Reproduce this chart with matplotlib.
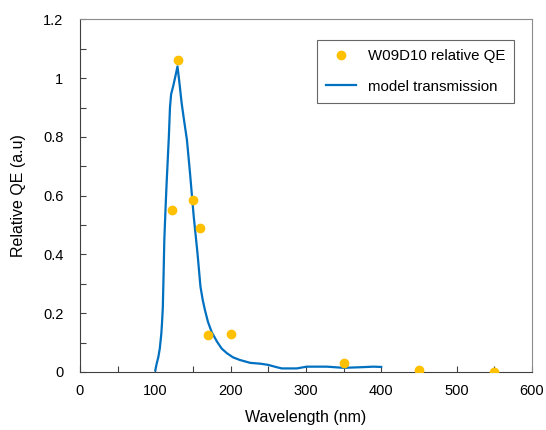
import matplotlib.pyplot as plt
from matplotlib.ticker import MultipleLocator

plt.rcParams['font.family'] = ['Liberation Sans', 'DejaVu Sans']

# measured relative QE
qe_wavelength = [122, 130, 150, 160, 170, 200, 350, 450, 550]
qe_values = [0.55, 1.06, 0.585, 0.49, 0.125, 0.13, 0.03, 0.006, 0.0]

# model transmission curve
model_wavelength = [100, 102, 104, 106, 108, 109, 110, 111, 112, 113.5, 115, 116.5, 118,
                    119.5, 121, 124, 127, 129.5, 132, 135, 138, 142, 146, 151, 156,
                    160, 163, 166, 170, 175, 182, 188, 195, 203, 212, 226, 240, 250,
                    260, 268, 288, 301, 328, 350, 372, 390, 400]
model_values = [0.005, 0.03, 0.05, 0.08, 0.13, 0.17, 0.22, 0.33, 0.45, 0.55, 0.64, 0.72, 0.8,
                0.9, 0.945, 0.975, 1.01, 1.04, 0.985, 0.915, 0.86, 0.79, 0.68, 0.53, 0.405,
                0.29, 0.245, 0.21, 0.17, 0.135, 0.103, 0.08, 0.064, 0.05, 0.041, 0.031, 0.028, 0.024,
                0.017, 0.012, 0.012, 0.018, 0.018, 0.014, 0.016, 0.018, 0.017]

fig, ax = plt.subplots(figsize=(5.46, 4.30), dpi=100)
fig.subplots_adjust(left=0.1465, right=0.974, top=0.955, bottom=0.135)

ax.plot(qe_wavelength, qe_values, 'o', color='#FFC000', markersize=6,
        label='W09D10 relative QE', zorder=3)
ax.plot(model_wavelength, model_values, color='#0070C0', linewidth=1.6,
        label='model transmission')

ax.set_xlim(0, 600)
ax.set_ylim(0, 1.2)
ax.xaxis.set_major_locator(MultipleLocator(100))
ax.xaxis.set_minor_locator(MultipleLocator(50))
ax.yaxis.set_minor_locator(MultipleLocator(0.1))
ax.set_yticks([0, 0.2, 0.4, 0.6, 0.8, 1.0, 1.2])
ax.set_yticklabels(['0', '0.2', '0.4', '0.6', '0.8', '1', '1.2'])
ax.tick_params(which='both', direction='in', length=4, width=0.8, labelsize=10.5, color='#404040')
ax.tick_params(axis='x', pad=9)
ax.tick_params(axis='y', pad=12)

for side in ('top', 'right'):
    ax.spines[side].set_color('#8c8c8c')
for side in ('left', 'bottom'):
    ax.spines[side].set_color('#404040')

ax.set_xlabel('Wavelength (nm)', fontsize=11.5, labelpad=8)
ax.set_ylabel('Relative QE (a.u)', fontsize=11.5, labelpad=12)

leg = ax.legend(loc='upper right', bbox_to_anchor=(0.978, 0.962), fontsize=10.8,
                fancybox=False, edgecolor='#404040', borderpad=0.6, labelspacing=1.1,
                handlelength=2.0, handletextpad=0.8)
leg.get_frame().set_linewidth(0.8)

fig.savefig('out.png')
